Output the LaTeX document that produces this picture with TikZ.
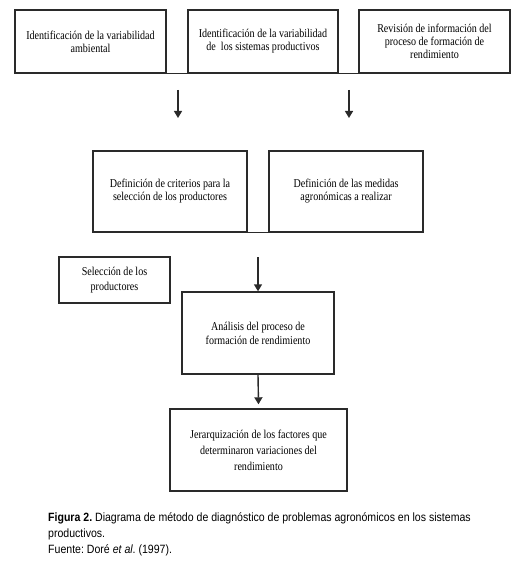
\documentclass[tikz,border=0pt]{standalone}
\usepackage{fontspec}
\setmainfont{Liberation Serif}
\newfontfamily\boxfont{Liberation Serif}[FakeStretch=0.84]
\newfontfamily\capfont{Liberation Sans}[FakeStretch=0.88]
\usetikzlibrary{arrows.meta}
\definecolor{boxgray}{HTML}{2A2A2A}
\tikzset{
  box/.style={draw=boxgray, line width=1.4pt, align=center, inner sep=0pt,
    font=\boxfont\fontsize{12}{13}\selectfont},
  link/.style={draw=boxgray, line width=1.4pt},
  >={Triangle[width=8pt,length=7pt]}
}
\begin{document}
\begin{tikzpicture}[x=1pt, y=-1pt]
\useasboundingbox (0,0) rectangle (523,575);
% first row
\node[box, minimum width=151pt, minimum height=63pt] (amb) at (90.5,41.5) {Identificación de la variabilidad\\ambiental};
\node[box, minimum width=150pt, minimum height=63pt] (sis) at (263,41.5) {Identificación de la variabilidad\\de\ \ los sistemas productivos};
\node[box, minimum width=151pt, minimum height=63pt] (rev) at (434.5,41.5) {Revisión de información del\\proceso de formación de\\rendimiento};
\draw[link] (amb.south east) -- (sis.south west);
\draw[link] (sis.south east) -- (rev.south west);
\coordinate (t1) at (178,90);
\coordinate (h1) at (178,118);
\coordinate (t2) at (349,90);
\coordinate (h2) at (349,118);
\draw[link, ->] (t1) -- (h1);
\draw[link, ->] (t2) -- (h2);
% second row
\node[box, minimum width=154pt, minimum height=81pt] (crit) at (170,191.5) {Definición de criterios para la\\selección de los productores};
\node[box, minimum width=154pt, minimum height=81pt] (med) at (346,191.5) {Definición de las medidas\\agronómicas a realizar};
\draw[link] (crit.south east) -- (med.south west);
% selection and analysis
\node[box, minimum width=111pt, minimum height=46pt, font=\boxfont\fontsize{12}{15}\selectfont] (sel) at (114.5,280) {Selección de los\\productores};
\node[box, minimum width=152pt, minimum height=82pt, font=\boxfont\fontsize{12}{14}\selectfont] (ana) at (258,333) {Análisis del proceso de\\formación de rendimiento};
\coordinate (t3) at (258,257);
\draw[link, ->] (t3) -- (ana.north);
\node[box, minimum width=177pt, minimum height=82pt, font=\boxfont\fontsize{12}{16}\selectfont] (jer) at (258.5,450) {Jerarquización de los factores que\\determinaron variaciones del\\rendimiento};
\draw[link, ->] (ana.south) -- ([yshift=4pt]jer.north);
% caption
\node[anchor=north west, align=left, inner sep=0pt, font=\capfont\frenchspacing\fontsize{12}{16}\selectfont] (cap) at (48,512)
  {\textbf{Figura 2.} Diagrama de método de diagnóstico de problemas agronómicos en los sistemas\\productivos.\\Fuente: Doré \textit{et al}. (1997).};
\end{tikzpicture}
\end{document}
